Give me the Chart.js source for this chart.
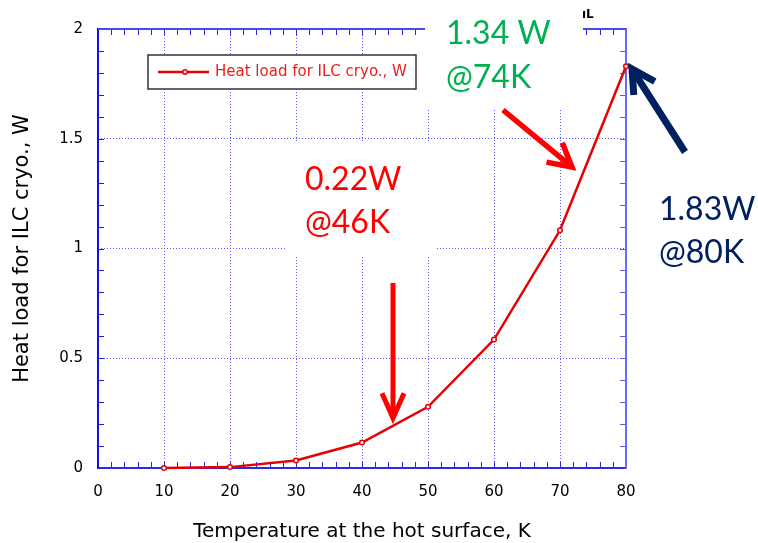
<!DOCTYPE html>
<html><head><meta charset="utf-8">
<script src="https://cdn.jsdelivr.net/npm/chart.js@4.4.1/dist/chart.umd.min.js"></script>
<style>html,body{margin:0;padding:0;background:#fff}canvas{display:block}</style>
</head><body>
<canvas id="c" width="758" height="543"></canvas>
<script>
// ---- data ----
const temperatures = [10, 20, 30, 40, 50, 60, 70, 80];
const heatLoads    = [0.0, 0.004, 0.034, 0.116, 0.279, 0.585, 1.083, 1.83];
const xTickValues  = [0, 10, 20, 30, 40, 50, 60, 70, 80];
const yTickValues  = [0, 0.5, 1, 1.5, 2];
const yTickLabels  = ['0', '0.5', '1', '1.5', '2'];
const seriesLabel  = 'Heat load for ILC cryo., W';
const xTitle       = 'Temperature at the hot surface, K';
const yTitle       = 'Heat load for ILC cryo., W';
const noteGreen    = ['1.34 W', '@74K'];
const noteRed      = ['0.22W', '@46K'];
const noteNavy     = ['1.83W', '@80K'];

const FONT = '"DejaVu Sans", "Noto Sans", sans-serif';
const NOTE_FONT = 'Lato, "Open Sans", sans-serif';

function line(ctx, x1, y1, x2, y2) { ctx.beginPath(); ctx.moveTo(x1, y1); ctx.lineTo(x2, y2); ctx.stroke(); }
function arrow(ctx, x1, y1, x2, y2, color, w, head, ang) {
  ctx.save();
  ctx.strokeStyle = color; ctx.lineWidth = w; ctx.lineJoin = 'miter'; ctx.lineCap = 'butt';
  const a = Math.atan2(y2 - y1, x2 - x1);
  line(ctx, x1, y1, x2 - Math.cos(a) * w * 0.6, y2 - Math.sin(a) * w * 0.6);
  ctx.beginPath();
  ctx.moveTo(x2 - head * Math.cos(a - ang), y2 - head * Math.sin(a - ang));
  ctx.lineTo(x2, y2);
  ctx.lineTo(x2 - head * Math.cos(a + ang), y2 - head * Math.sin(a + ang));
  ctx.stroke();
  ctx.restore();
}

const decor = {
  id: 'decor',
  beforeDatasetsDraw(chart) {
    const { ctx, chartArea: a, scales: { x, y } } = chart;
    ctx.save();
    ctx.lineWidth = 1;
    // minor ticks (inward)
    ctx.strokeStyle = '#2525e6';
    for (let v = 2; v < 80; v += 2) {
      const px = Math.round(x.getPixelForValue(v)) + 0.5;
      line(ctx, px, a.bottom, px, a.bottom - 6);
      line(ctx, px, a.top, px, a.top + 6);
    }
    for (let k = 1; k < 20; k++) {
      const py = Math.round(y.getPixelForValue(k / 10)) + 0.5;
      ctx.strokeStyle = '#1a1ae6';
      line(ctx, a.left, py, a.left + 6, py);
      ctx.strokeStyle = '#5a5ae8';
      line(ctx, a.right, py, a.right - 6, py);
    }
    // frame
    ctx.lineWidth = 2;
    ctx.strokeStyle = '#1010ee'; line(ctx, a.left, a.top - 1, a.left, a.bottom + 1);
    ctx.strokeStyle = '#2a2aee'; line(ctx, a.left, a.bottom, a.right + 1, a.bottom);
    ctx.strokeStyle = '#4a4aea'; line(ctx, a.left, a.top, a.right + 1, a.top);
    ctx.strokeStyle = '#6a6af0'; line(ctx, a.right, a.top, a.right, a.bottom + 1);
    // white text backgrounds
    ctx.fillStyle = '#ffffff';
    ctx.fillRect(285, 143, 150, 113);
    ctx.fillRect(425, 0, 158, 110);
    ctx.restore();
  },
  afterDraw(chart) {
    const { ctx } = chart;
    ctx.save();
    // legend
    ctx.fillStyle = '#fff'; ctx.fillRect(148, 55, 268, 34);
    ctx.strokeStyle = '#333'; ctx.lineWidth = 1.5; ctx.strokeRect(148, 55, 268, 34);
    ctx.strokeStyle = '#e60000'; ctx.lineWidth = 2.5; line(ctx, 158, 72, 209, 72);
    ctx.beginPath(); ctx.arc(185, 72, 2.2, 0, Math.PI * 2); ctx.fillStyle = '#fff'; ctx.fill();
    ctx.lineWidth = 1.5; ctx.stroke();
    ctx.fillStyle = '#e82020'; ctx.font = '15px ' + FONT; ctx.textBaseline = 'middle'; ctx.textAlign = 'left';
    ctx.fillText(chart.data.datasets[0].label, 215, 72);
    // small mark at top
    ctx.fillStyle = '#000'; ctx.font = 'bold 12px "DejaVu Sans"'; ctx.textBaseline = 'alphabetic';
    ctx.fillText('\u0131L', 582, 18);
    // annotations
    ctx.font = '32px ' + NOTE_FONT; ctx.textBaseline = 'alphabetic';
    ctx.fillStyle = '#00b050'; ctx.fillText(noteGreen[0], 446, 44); ctx.fillText(noteGreen[1], 446, 88);
    ctx.fillStyle = '#ff0000'; ctx.fillText(noteRed[0], 305, 190); ctx.fillText(noteRed[1], 305, 233);
    ctx.fillStyle = '#002060'; ctx.fillText(noteNavy[0], 659, 220); ctx.fillText(noteNavy[1], 659, 263);
    // arrows
    arrow(ctx, 393, 283, 393, 418, '#ff0000', 5, 27, 0.42);
    arrow(ctx, 503, 110, 572, 167, '#ff0000', 5.5, 26, 0.5);
    arrow(ctx, 685, 152, 632, 69, '#002060', 7, 26, 0.5);
    ctx.restore();
  }
};

const gridColor = (c) => (c.tick && (c.tick.value === c.scale.min || c.tick.value === c.scale.max)) ? 'rgba(0,0,0,0)' : '#5a5af5';

new Chart(document.getElementById('c'), {
  type: 'line',
  data: {
    datasets: [{
      label: seriesLabel,
      data: temperatures.map((t, i) => ({ x: t, y: heatLoads[i] })),
      borderColor: '#e60000',
      borderWidth: 2.5,
      pointRadius: 2.3,
      pointBorderWidth: 1.5,
      pointBackgroundColor: '#ffffff',
      pointBorderColor: '#e60000',
      tension: 0,
      clip: 6
    }]
  },
  options: {
    responsive: false,
    animation: false,
    events: [],
    layout: { padding: { left: 0, right: 132, top: 29, bottom: 0 } },
    plugins: { legend: { display: false }, tooltip: { enabled: false } },
    scales: {
      x: {
        type: 'linear', min: 0, max: 80,
        afterFit: s => { s.height = 75; },
        afterBuildTicks: s => { s.ticks = xTickValues.map(v => ({ value: v })); },
        grid: { color: gridColor, lineWidth: 1, drawTicks: false },
        border: { display: false, dash: [1, 2] },
        ticks: { color: '#000', padding: 15, font: { family: FONT, size: 15 }, maxRotation: 0 },
        title: { display: true, text: xTitle, color: '#000', font: { family: FONT, size: 20, lineHeight: 1 }, padding: { top: 0, bottom: 1 } }
      },
      y: {
        type: 'linear', min: 0, max: 2,
        afterFit: s => { s.width = 98; },
        afterBuildTicks: s => { s.ticks = yTickValues.map(v => ({ value: v })); },
        grid: { color: gridColor, lineWidth: 1, drawTicks: false },
        border: { display: false, dash: [1, 2] },
        ticks: { color: '#000', padding: 15, font: { family: FONT, size: 15 },
          callback: (v) => yTickLabels[yTickValues.indexOf(v)] },
        title: { display: true, text: yTitle, color: '#000', font: { family: FONT, size: 21, lineHeight: 1.2 }, padding: { top: 10, bottom: 0 } }
      }
    }
  },
  plugins: [decor]
});
</script>
</body></html>
